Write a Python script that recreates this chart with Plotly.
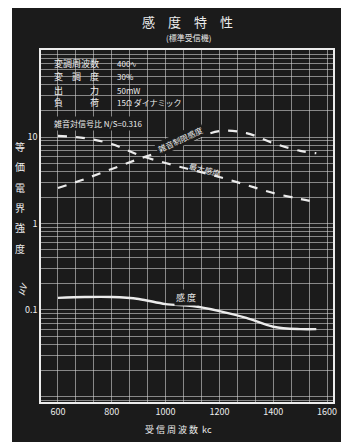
import plotly.graph_objects as go
import numpy as np

# ---- data ----
freq_kc = [600, 700, 800, 900, 1000, 1100, 1200, 1300, 1400, 1500, 1560]
curve_max = [10.3, 9.7, 8.3, 6.2, 5.0, 4.15, 3.45, 2.79, 2.25, 1.92, 1.77]
curve_noise = [2.57, 3.27, 4.27, 5.57, 7.08, 9.2, 11.7, 11.1, 8.5, 6.9, 6.5]
curve_sens = [0.138, 0.141, 0.141, 0.134, 0.117, 0.111, 0.097, 0.081, 0.064, 0.060, 0.060]

x_tick_vals = [600, 800, 1000, 1200, 1400, 1600]
x_tick_text = ["600", "800", "1000", "1200", "1400", "1600"]
y_tick_vals = [0.1, 1, 10]
y_tick_text = ["0.1", "1", "10"]

title_text = "感　度　特　性"
subtitle_text = "(標準受信機)"
x_title = "受 信 周 波 数  kc"
y_title_chars = ["等", "価", "電", "界", "強", "度"]
y_unit = "μV"
cond_labels = ["変調周波数", "変　調　度", "出　　　力", "負　　　荷"]
cond_values = ["400∿", "30%", "50mW", "15Ω ダイナミック"]
cond_note = "雑音対信号比 N/S=0.316"

BG = "#1b1b1b"
FG = "#ececec"
GRID = "rgba(210,210,210,0.6)"
FONT = "Noto Sans CJK JP"

# page body has an 8px margin: work in reference pixels, shift by OFF
OFF = 8
W, H = 349 - OFF, 446 - OFF
L, R, T, B = 41 - OFF, 333 - OFF, 50 - OFF, 402 - OFF
xr = [537, 1622]
yr = [-2.064, 2.006]


def px2x(px):
    return xr[0] + (px - OFF - L) / (R - L) * (xr[1] - xr[0])


def py2y(py):
    return yr[1] - (py - OFF - T) / (B - T) * (yr[1] - yr[0])


def ppx(px):
    return (px - OFF - L) / (R - L)


def ppy(py):
    return (B - (py - OFF)) / (B - T)


fig = go.Figure()
fig.add_trace(go.Scatter(x=freq_kc, y=curve_max, mode="lines",
                         line=dict(color=FG, width=2.2, dash="dash", shape="spline"), showlegend=False))
fig.add_trace(go.Scatter(x=freq_kc, y=curve_noise, mode="lines",
                         line=dict(color=FG, width=2.2, dash="dash", shape="spline"), showlegend=False))
fig.add_trace(go.Scatter(x=freq_kc, y=curve_sens, mode="lines",
                         line=dict(color=FG, width=2.4, shape="spline"), showlegend=False))

# grid values
xgrid = [600 + k * 200 / 3 for k in range(-1, 16)]
xgrid_text = []
for v in xgrid:
    lab = ""
    for tv, tt in zip(x_tick_vals, x_tick_text):
        if abs(v - tv) < 1e-6:
            lab = tt
    xgrid_text.append(lab)
ygrid = []
ygrid_text = []
for e in range(-3, 2):
    for d in range(1, 10):
        v = d * 10 ** e
        ygrid.append(v)
        lab = ""
        for tv, tt in zip(y_tick_vals, y_tick_text):
            if abs(v - tv) < 1e-9:
                lab = tt
        ygrid_text.append(lab)

fig.update_xaxes(range=xr, tickvals=xgrid, ticktext=xgrid_text, showgrid=True, gridcolor=GRID, gridwidth=1,
                 showline=True, linecolor=FG, linewidth=1.5, mirror=True, zeroline=False, ticks="",
                 automargin=False, tickfont=dict(family=FONT, size=9, color=FG))
fig.update_yaxes(type="log", range=yr, tickvals=ygrid, ticktext=ygrid_text, showgrid=True, gridcolor=GRID,
                 gridwidth=1, showline=True, linecolor=FG, linewidth=1.5, mirror=True, zeroline=False, ticks="",
                 automargin=False, tickfont=dict(family=FONT, size=9, color=FG))

shapes = [
    dict(type="rect", xref="paper", yref="paper", x0=ppx(12), x1=ppx(343), y0=ppy(442), y1=ppy(3),
         fillcolor=BG, line=dict(width=0), layer="below"),
    dict(type="rect", xref="paper", yref="paper", x0=0, x1=ppx(150), y0=ppy(112), y1=1,
         fillcolor=BG, line=dict(width=0), layer="between"),
]


def pa(text, px, py, size, anchor="center", **kw):
    return dict(text=text, x=ppx(px), y=ppy(py), xref="paper", yref="paper", showarrow=False,
                xanchor=anchor, yanchor="middle", font=dict(family=FONT, size=size, color=FG), **kw)


ann = []
ann.append(pa(title_text, 187, 22, 13))
ann.append(pa(subtitle_text, 188, 38, 8))
ann.append(pa(x_title, 178, 429, 9))
for i, ch in enumerate(y_title_chars):
    ann.append(pa(ch, 20, 146 + i * 20.5, 10))
ann.append(pa(y_unit, 22, 288, 9, textangle=-60))
rows_y = [63, 77, 90, 103]
for lab, val, yy in zip(cond_labels, cond_values, rows_y):
    ann.append(pa(lab, 52, yy, 9, anchor="left"))
    ann.append(pa(val, 115, yy, 8, anchor="left"))
ann.append(pa(cond_note, 52, 123, 8, anchor="left", bgcolor=BG))

ann.append(dict(text="感 度", x=px2x(186), y=py2y(297), showarrow=False, bgcolor=BG,
                xanchor="center", yanchor="middle", font=dict(family=FONT, size=9, color=FG)))
ann.append(dict(text="最大感度", x=px2x(205), y=py2y(169), showarrow=False, textangle=15,
                xanchor="center", yanchor="middle", font=dict(family=FONT, size=8, color=FG)))
ann.append(dict(text="雑音制限感度", x=px2x(180), y=py2y(139), showarrow=False, textangle=-25, bgcolor=BG,
                xanchor="center", yanchor="middle", font=dict(family=FONT, size=8, color=FG)))

fig.update_layout(width=W, height=H, autosize=False,
                  margin=dict(l=L, r=W - R, t=T, b=H - B, pad=0),
                  paper_bgcolor="white", plot_bgcolor=BG,
                  shapes=shapes, annotations=ann, showlegend=False)

fig.write_html("out.html")
